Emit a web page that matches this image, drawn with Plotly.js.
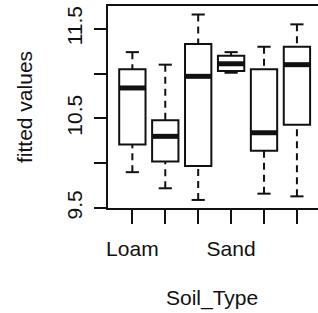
<!DOCTYPE html>
<html><head><meta charset="utf-8">
<script src="https://cdn.plot.ly/plotly-3.0.1.min.js"></script>
<style>html,body{margin:0;padding:0;background:#fff}#chart{width:318px;height:313px}</style>
</head><body><div id="chart"></div>
<script>
const tickLabels = ['Loam', '', '', 'Sand', '', ''];
const positions = [1, 2, 3, 4, 5, 6];
const lowerWhisker = [9.90, 9.72, 9.59, 11.01, 9.66, 9.63];
const q1 = [10.21, 10.02, 9.97, 11.03, 10.14, 10.43];
const median = [10.84, 10.30, 10.97, 11.11, 10.34, 11.10];
const q3 = [11.05, 10.48, 11.33, 11.20, 11.05, 11.30];
const upperWhisker = [11.24, 11.10, 11.66, 11.24, 11.30, 11.55];
const yTicks = [9.5, 10, 10.5, 11, 11.5];
const yTickText = ['9.5', '', '10.5', '', '11.5'];
const xTitle = 'Soil_Type';
const yTitle = 'fitted values';

const ink = '#111';
const font = {family: 'Liberation Sans, Arial, sans-serif', size: 21, color: ink};
const halfBox = 0.4, halfCap = 0.2;

const wx = [], wy = [], cx = [], cy = [], mx = [], my = [];
positions.forEach((p, i) => {
  wx.push(p, p, null, p, p, null);
  wy.push(lowerWhisker[i], q1[i], null, upperWhisker[i], q3[i], null);
  cx.push(p - halfCap, p + halfCap, null, p - halfCap, p + halfCap, null);
  cy.push(lowerWhisker[i], lowerWhisker[i], null, upperWhisker[i], upperWhisker[i], null);
  mx.push(p - halfBox, p + halfBox, null);
  my.push(median[i], median[i], null);
});

const traces = [
  {type: 'scatter', mode: 'lines', x: wx, y: wy, line: {color: ink, width: 2, dash: '7px,5px'}, hoverinfo: 'skip'},
  {type: 'scatter', mode: 'lines', x: cx, y: cy, line: {color: ink, width: 2}, hoverinfo: 'skip'},
  {type: 'box', x: positions, q1: q1, median: median, q3: q3, lowerfence: q1, upperfence: q3,
   width: 0.8, whiskerwidth: 0, boxpoints: false, line: {color: ink, width: 2},
   fillcolor: 'rgba(255,255,255,0)', hoverinfo: 'skip'},
  {type: 'scatter', mode: 'lines', x: mx, y: my, line: {color: ink, width: 5}, hoverinfo: 'skip'}
];

const layout = {
  width: 318, height: 313,
  margin: {l: 108, r: 0, t: 6, b: 105, pad: 0},
  showlegend: false,
  paper_bgcolor: '#fff', plot_bgcolor: '#fff',
  font: font,
  xaxis: {
    range: [0.26, 6.64], tickmode: 'array', tickvals: positions, ticktext: tickLabels,
    ticks: 'outside', ticklen: 14, tickwidth: 2, tickcolor: ink,
    showline: true, linewidth: 2, linecolor: ink, mirror: true,
    showgrid: false, zeroline: false, tickfont: font, ticklabelstandoff: 7
  },
  yaxis: {
    range: [9.5, 11.755], tickmode: 'array', tickvals: yTicks, ticktext: yTickText,
    tickangle: -90, ticks: 'outside', ticklen: 12, tickwidth: 2, tickcolor: ink,
    showline: true, linewidth: 2, linecolor: ink, mirror: false,
    showgrid: false, zeroline: false, tickfont: font, ticklabelstandoff: 4
  },
  annotations: [
    {text: xTitle, xref: 'paper', yref: 'paper', x: 0.4976, y: -0.447, xanchor: 'center', yanchor: 'middle', showarrow: false, font: font},
    {text: yTitle, xref: 'paper', yref: 'paper', x: -0.40, y: 0.5, xanchor: 'center', yanchor: 'middle', textangle: -90, showarrow: false, font: font}
  ]
};

Plotly.newPlot('chart', traces, layout, {staticPlot: true, displayModeBar: false});
</script></body></html>
